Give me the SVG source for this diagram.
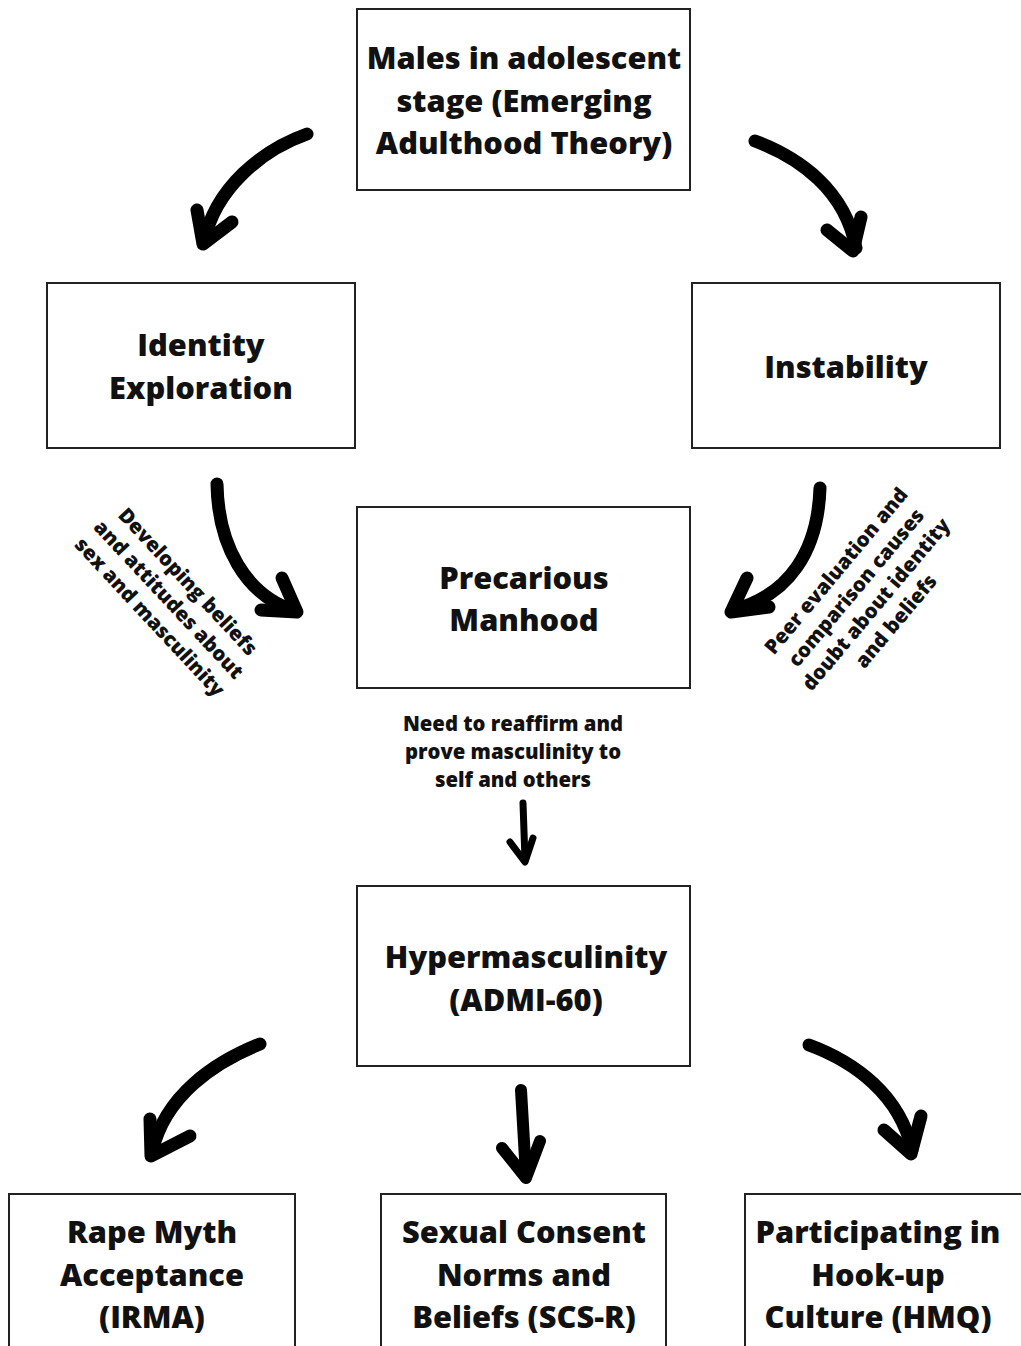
<svg xmlns="http://www.w3.org/2000/svg" width="1021" height="1346" viewBox="0 0 1021 1346">
<style>
.box{fill:#fff;stroke:#222;stroke-width:2}
.t{font-family:"Open Sans","DejaVu Sans",sans-serif;font-weight:800;font-size:30.8px;fill:#111;text-anchor:middle}
.s{font-family:"Open Sans","DejaVu Sans",sans-serif;font-weight:800;font-size:20.3px;fill:#111;text-anchor:middle}
.a{fill:none;stroke:#000;stroke-width:13;stroke-linecap:round;stroke-linejoin:round}
.h{fill:none;stroke:#000;stroke-width:13;stroke-linecap:round;stroke-linejoin:round}
</style>
<rect width="1021" height="1346" fill="#fff"/>
<g id="n-top"><rect class="box" x="357" y="9" width="333" height="181"/>
<text class="t" x="524" y="69">Males in adolescent</text>
<text class="t" x="524" y="112">stage (Emerging</text>
<text class="t" x="524" y="154">Adulthood Theory)</text></g>
<g id="n-identity"><rect class="box" x="47" y="283" width="308" height="165"/>
<text class="t" x="201" y="356">Identity</text>
<text class="t" x="201" y="399">Exploration</text></g>
<g id="n-instability"><rect class="box" x="692" y="283" width="308" height="165"/>
<text class="t" x="846" y="378">Instability</text></g>
<g id="n-precarious"><rect class="box" x="357" y="507" width="333" height="181"/>
<text class="t" x="524" y="589">Precarious</text>
<text class="t" x="524" y="631">Manhood</text></g>
<g id="n-hyper"><rect class="box" x="357" y="886" width="333" height="180"/>
<text class="t" x="526" y="968">Hypermasculinity</text>
<text class="t" x="526" y="1011">(ADMI-60)</text></g>
<g id="n-rape"><rect class="box" x="9" y="1194" width="286" height="160"/>
<text class="t" x="152" y="1243">Rape Myth</text>
<text class="t" x="152" y="1286">Acceptance</text>
<text class="t" x="152" y="1328">(IRMA)</text></g>
<g id="n-consent"><rect class="box" x="381" y="1194" width="285" height="160"/>
<text class="t" x="524" y="1243">Sexual Consent</text>
<text class="t" x="524" y="1286">Norms and</text>
<text class="t" x="524" y="1328">Beliefs (SCS-R)</text></g>
<g id="n-hookup"><rect class="box" x="745" y="1194" width="286" height="160"/>
<text class="t" x="878" y="1243">Participating in</text>
<text class="t" x="878" y="1286">Hook-up</text>
<text class="t" x="878" y="1328">Culture (HMQ)</text></g>
<g id="connectors">
<path class="a" d="M307,134 C262,150 215,188 204,242"/>
<path class="h" d="M197,210 L203,244 L232,222"/>
<path class="a" d="M755,141 C800,158 845,190 856,248"/>
<path class="h" d="M827,230 L853,251 L861,217"/>
<path class="a" d="M217,484 C218,545 245,595 295,611"/>
<path class="h" d="M282,578 L297,612 L261,610"/>
<path class="a" d="M820,488 C818,550 790,595 733,610"/>
<path class="h" d="M747,578 L731,612 L769,607"/>
<path class="a" d="M523,803 L525,860" style="stroke-width:7"/>
<path class="h" d="M510,842 L525,862 L533,838" style="stroke-width:7"/>
<path class="a" d="M260,1044 C215,1062 165,1095 152,1152"/>
<path class="h" d="M150,1119 L151,1156 L190,1136"/>
<path class="a" d="M521,1090 L526,1176" style="stroke-width:12"/>
<path class="h" d="M502,1148 L526,1178 L540,1141" style="stroke-width:12"/>
<path class="a" d="M809,1045 C855,1062 900,1095 912,1150"/>
<path class="h" d="M884,1130 L911,1154 L921,1116"/>
<text class="s" x="513" y="731">Need to reaffirm and</text>
<text class="s" x="513" y="759">prove masculinity to</text>
<text class="s" x="513" y="787">self and others</text>
<g transform="translate(168,600) rotate(47)">
<text class="s" x="0" y="-20">Developing beliefs</text>
<text class="s" x="0" y="6">and attitudes about</text>
<text class="s" x="0" y="32">sex and masculinity</text>
</g>
<g transform="translate(866,596) rotate(-50)">
<text class="s" x="0" y="-32">Peer evaluation and</text>
<text class="s" x="0" y="-6">comparison causes</text>
<text class="s" x="0" y="20">doubt about identity</text>
<text class="s" x="0" y="46">and beliefs</text>
</g>
</g>
</svg>
